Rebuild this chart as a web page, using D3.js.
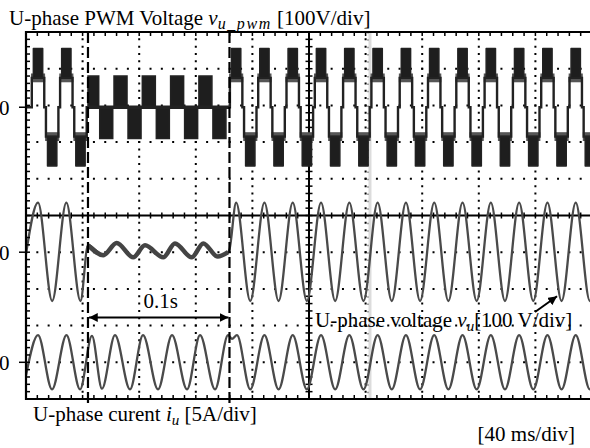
<!DOCTYPE html>
<html>
<head>
<meta charset="utf-8">
<script src="https://cdn.jsdelivr.net/npm/d3@7"></script>
<style>
  html, body { margin: 0; padding: 0; background: #fff; }
  svg { display: block; font-family: "Liberation Serif", "Times New Roman", serif; }
</style>
</head>
<body>
<div class="chart"></div>
<script>
// Time axis in ms, 10 div x 40 ms/div
const timeDomain = [0, 400]
const gridTimes = [40, 80, 120, 160, 240, 280, 320, 360]
const gridDivs = [-4, -3, -2, -1, 1, 2, 3, 4]

// Gate where the PWM drops to 3 levels (dashed lines, 0.1 s apart)
const gateStart = 43.8
const gateEnd = 143.8
const cursorTime = 243.1

// Channel zero offsets (div from screen centre) and scale per div
const chOffset = [2.95, -1.0, -4.0]
const chPerDiv = [100, 100, 5]

// U-phase voltage v_u [V]
const vuTime = [0, 8.5, 18.5, 28.5, 38.5, 43.8, 54.6, 64.1, 75.8, 84.1, 97.0, 105.3, 117.1, 125.3, 135.5, 142.8, 143.8,
  148.5, 158.5, 168.5, 178.5, 188.5, 198.5, 208.5, 218.5, 228.5, 238.5, 248.5, 258.5, 268.5, 278.5,
  288.5, 298.5, 308.5, 318.5, 328.5, 338.5, 348.5, 358.5, 368.5, 378.5, 388.5, 398.5, 400]
const vuVolt = [-5, 135, -133, 135, -133, 19, -8, 25, -14, 19, -14, 24, -14, 24, -12, 0, 8,
  135, -133, 135, -133, 135, -133, 135, -133, 135, -133, 135, -133, 135, -133,
  135, -133, 135, -133, 135, -133, 135, -133, 135, -133, 135, -133, -124]

// U-phase current i_u [A]
const iuTime = [0, 8.5, 18.4, 28.6, 38.2, 46.6, 53.7, 62.9, 73.5, 82.7, 93.3, 103.2, 113.8, 123.0, 133.6, 142.8, 145.6,
  149.1, 158.5, 168.5, 178.5, 188.5, 198.5, 208.5, 218.5, 228.5, 238.5, 248.5, 258.5, 268.5, 278.5,
  288.5, 298.5, 308.5, 318.5, 328.5, 338.5, 348.5, 358.5, 368.5, 378.5, 388.5, 398.5, 400]
const iuAmp = [-1.8, 3.7, -3.7, 3.7, -3.7, 3.6, -3.6, 3.7, -3.7, 3.7, -3.7, 3.7, -3.7, 3.7, -3.7, 3.7, 3.2,
  3.7, -3.7, 3.7, -3.7, 3.7, -3.7, 3.7, -3.7, 3.7, -3.7, 3.7, -3.7, 3.7, -3.7,
  3.7, -3.7, 3.7, -3.7, 3.7, -3.7, 3.7, -3.7, 3.7, -3.7, 3.7, -3.7, -3.4]

// PWM voltage v_u_pwm: 5-level lobes outside the gate
const pwmPosCenters = [8.5, 28.5, 148.5, 168.5, 188.5, 208.5, 228.5, 248.5, 268.5, 288.5, 308.5, 328.5, 348.5, 368.5, 388.5]
const pwmNegCenters = [18.5, 38.5, 158.5, 178.5, 198.5, 218.5, 238.5, 258.5, 278.5, 298.5, 318.5, 338.5, 358.5, 378.5, 398.5]
const lobeOffset = [-4.4, -4.4, 4.4, 4.4]
const lobeLevel = [0, 80, 80, 0]
const blockHalf = 3.3          // +1/+2 switching block
const blockLevels = [80, 160]
const shoulderHalf = 5.0
const shoulderLevels = [68, 92]

// 3-level PWM inside the gate
const pwm3PosCenters = [46.8, 66.8, 86.8, 106.8, 126.8]
const pwm3NegCenters = [56.7, 76.7, 96.7, 116.7, 136.7]
const pwm3Half = 4.6
const pwm3Level = 85

const W = 590, H = 448
const plot = {left: 26, right: 592, top: 32, bottom: 399}
const fontSize = 21, subSize = 15

const svg = d3.select(".chart").append("svg")
  .attr("width", W)
  .attr("height", H)

svg.append("rect").attr("width", W).attr("height", H).attr("fill", "#fff")

// Scales
const x = d3.scaleLinear().domain(timeDomain).range([plot.left, plot.right])
const yDiv = d3.scaleLinear().domain([-5, 5]).range([plot.bottom, plot.top])
const chScale = i => d3.scaleLinear()
  .domain([(-5 - chOffset[i]) * chPerDiv[i], (5 - chOffset[i]) * chPerDiv[i]])
  .range([plot.bottom, plot.top])
const yPwm = chScale(0)
const yVu = chScale(1)
const yIu = chScale(2)

const divW = x(40) - x(0)
const divH = yDiv(0) - yDiv(1)

// Graticule dots
const grid = svg.append("g")
grid.selectAll(".vgrid")
  .data(gridTimes)
  .enter().append("line")
    .attr("x1", d => x(d)).attr("x2", d => x(d))
    .attr("y1", plot.top).attr("y2", plot.bottom)
    .attr("stroke", "#000")
    .attr("stroke-width", 2)
    .attr("stroke-dasharray", `2,${divH / 5 - 2}`)
    .attr("stroke-dashoffset", 1)
grid.selectAll(".hgrid")
  .data(gridDivs)
  .enter().append("line")
    .attr("x1", plot.left).attr("x2", plot.right)
    .attr("y1", d => yDiv(d)).attr("y2", d => yDiv(d))
    .attr("stroke", "#000")
    .attr("stroke-width", 2)
    .attr("stroke-dasharray", `2,${divW / 5 - 2}`)
    .attr("stroke-dashoffset", 1)

// Cursor line (light grey)
svg.append("line")
  .attr("x1", x(cursorTime)).attr("x2", x(cursorTime))
  .attr("y1", plot.top).attr("y2", plot.bottom)
  .attr("stroke", "#dcdcdc")
  .attr("stroke-width", 3)
svg.append("line")
  .attr("x1", x(cursorTime) - 2).attr("x2", x(cursorTime) - 2)
  .attr("y1", plot.top).attr("y2", plot.bottom)
  .attr("stroke", "#888")
  .attr("stroke-width", 1.5)
  .attr("stroke-dasharray", `1.5,${divH / 5 - 1.5}`)

// Centre axes with minor ticks
const minorT = d3.range(0, 400.1, 8)
const minorD = d3.range(-5, 5.01, 0.2)
svg.append("line")
  .attr("x1", plot.left).attr("x2", plot.right)
  .attr("y1", yDiv(0)).attr("y2", yDiv(0))
  .attr("stroke", "#000").attr("stroke-width", 2)
svg.append("line")
  .attr("x1", x(200)).attr("x2", x(200))
  .attr("y1", plot.top).attr("y2", plot.bottom)
  .attr("stroke", "#000").attr("stroke-width", 2)
svg.append("g").selectAll("line")
  .data(minorT)
  .enter().append("line")
    .attr("x1", d => x(d)).attr("x2", d => x(d))
    .attr("y1", yDiv(0) - 3).attr("y2", yDiv(0) + 3)
    .attr("stroke", "#000").attr("stroke-width", 1.5)
svg.append("g").selectAll("line")
  .data(minorD)
  .enter().append("line")
    .attr("x1", x(200) - 3.5).attr("x2", x(200) + 3.5)
    .attr("y1", d => yDiv(d)).attr("y2", d => yDiv(d))
    .attr("stroke", "#000").attr("stroke-width", 1.5)

// PWM trace
const pwmTrace = []
function addLobes(t0, t1, pos, neg) {
  const lobes = pos.map(c => [c, 1]).concat(neg.map(c => [c, -1])).sort((a, b) => a[0] - b[0])
  pwmTrace.push([t0, 0])
  lobes.forEach(([c, s]) => {
    lobeOffset.forEach((o, i) => pwmTrace.push([c + o, s * lobeLevel[i]]))
  })
  pwmTrace.push([t1, 0])
}
addLobes(0, gateStart, pwmPosCenters.filter(c => c < gateStart), pwmNegCenters.filter(c => c < gateStart))
addLobes(gateEnd, 402, pwmPosCenters.filter(c => c > gateEnd), pwmNegCenters.filter(c => c > gateEnd))

const pwmG = svg.append("g")
const bandArea = d3.area().x(d => x(d[0])).y0(d => yPwm(d[1])).y1(d => yPwm(d[2]))
const lobes5 = pwmPosCenters.map(c => [c, 1]).concat(pwmNegCenters.map(c => [c, -1]))

// shoulders (+1 level)
pwmG.selectAll(".shoulder")
  .data(lobes5)
  .enter().append("path")
    .attr("d", ([c, s]) => bandArea([[c - shoulderHalf, s * shoulderLevels[0], s * shoulderLevels[1]],
                                     [c + shoulderHalf, s * shoulderLevels[0], s * shoulderLevels[1]]]))
    .attr("fill", "#555")
// switching blocks (+1/+2)
pwmG.selectAll(".block")
  .data(lobes5)
  .enter().append("path")
    .attr("d", ([c, s]) => bandArea([[c - blockHalf, s * blockLevels[0], s * blockLevels[1]],
                                     [c + blockHalf, s * blockLevels[0], s * blockLevels[1]]]))
    .attr("fill", "#1e1e1e")
    .attr("stroke", "#222")
    .attr("stroke-width", 1.5)
    .attr("stroke-linejoin", "round")
// 3-level blocks inside the gate
pwmG.selectAll(".block3")
  .data(pwm3PosCenters.map(c => [c, 1]).concat(pwm3NegCenters.map(c => [c, -1])))
  .enter().append("path")
    .attr("d", ([c, s]) => bandArea([[Math.max(c - pwm3Half, gateStart), 0, s * pwm3Level],
                                     [Math.min(c + pwm3Half, gateEnd), 0, s * pwm3Level]]))
    .attr("fill", "#1e1e1e")
    .attr("stroke", "#222")
    .attr("stroke-width", 1.5)
pwmG.append("path")
  .attr("d", d3.line().x(d => x(d[0])).y(d => yPwm(d[1]))([[gateStart, 0], [gateEnd, 0]]))
  .attr("fill", "none").attr("stroke", "#222").attr("stroke-width", 3.5)
pwmG.append("path")
  .attr("d", d3.line().x(d => x(d[0])).y(d => yPwm(d[1]))(pwmTrace))
  .attr("fill", "none")
  .attr("stroke", "#222")
  .attr("stroke-width", 2.4)

// v_u trace
const vuData = d3.zip(vuTime, vuVolt)
const vuLine = d3.line().x(d => x(d[0])).y(d => yVu(d[1])).curve(d3.curveMonotoneX)
svg.append("path")
  .attr("d", vuLine(vuData))
  .attr("fill", "none").attr("stroke", "#4a4a4a").attr("stroke-width", 2.3)
svg.append("path")
  .attr("d", vuLine(vuData.filter(d => d[0] >= gateStart && d[0] <= gateEnd - 1)))
  .attr("fill", "none").attr("stroke", "#444").attr("stroke-width", 4.5)

// i_u trace
const iuData = d3.zip(iuTime, iuAmp)
svg.append("path")
  .attr("d", d3.line().x(d => x(d[0])).y(d => yIu(d[1])).curve(d3.curveMonotoneX)(iuData))
  .attr("fill", "none").attr("stroke", "#4a4a4a").attr("stroke-width", 2.3)

// Border with ticks
const border = svg.append("g")
border.append("path")
  .attr("d", `M${plot.right},${plot.top}H${plot.left}V${plot.bottom}H${plot.right}`)
  .attr("fill", "none").attr("stroke", "#000").attr("stroke-width", 2.2)
border.selectAll(".tt")
  .data(minorT)
  .enter().append("line")
    .attr("x1", d => x(d)).attr("x2", d => x(d))
    .attr("y1", plot.top).attr("y2", plot.top + 4)
    .attr("stroke", "#000").attr("stroke-width", 1.5)
border.selectAll(".bt")
  .data(minorT)
  .enter().append("line")
    .attr("x1", d => x(d)).attr("x2", d => x(d))
    .attr("y1", plot.bottom).attr("y2", plot.bottom - 4)
    .attr("stroke", "#000").attr("stroke-width", 1.5)
border.selectAll(".lt")
  .data(minorD)
  .enter().append("line")
    .attr("x1", plot.left).attr("x2", plot.left + 4)
    .attr("y1", d => yDiv(d)).attr("y2", d => yDiv(d))
    .attr("stroke", "#000").attr("stroke-width", 1.5)

// Gate markers (dashed)
svg.selectAll(".gate")
  .data([gateStart, gateEnd])
  .enter().append("line")
    .attr("x1", d => x(d)).attr("x2", d => x(d))
    .attr("y1", plot.top).attr("y2", plot.bottom + 6)
    .attr("stroke", "#000")
    .attr("stroke-width", 2.2)
    .attr("stroke-dasharray", "11,4")

// 0.1 s arrow
const defs = svg.append("defs")
defs.append("marker")
  .attr("id", "ah").attr("viewBox", "0 0 10 10")
  .attr("refX", 10).attr("refY", 5)
  .attr("markerWidth", 4).attr("markerHeight", 4)
  .attr("orient", "auto-start-reverse")
  .append("path").attr("d", "M0,0L10,5L0,10z").attr("fill", "#000")
const arrowY = 317.5
svg.append("line")
  .attr("x1", x(gateStart) + 1).attr("x2", x(gateEnd) - 1)
  .attr("y1", arrowY).attr("y2", arrowY)
  .attr("stroke", "#000").attr("stroke-width", 2.2)
  .attr("marker-start", "url(#ah)").attr("marker-end", "url(#ah)")
svg.append("text")
  .attr("x", (x(gateStart) + x(gateEnd)) / 2 + 2)
  .attr("y", 308)
  .attr("text-anchor", "middle")
  .attr("font-size", fontSize)
  .text("0.1s")

// Zero markers
const zeroY = [yPwm(0), yVu(0), yIu(0)]
svg.selectAll(".zt")
  .data(zeroY)
  .enter().append("line")
    .attr("x1", 19).attr("x2", plot.left)
    .attr("y1", d => d).attr("y2", d => d)
    .attr("stroke", "#000").attr("stroke-width", 1.5)
svg.selectAll(".zl")
  .data(zeroY)
  .enter().append("text")
    .attr("x", -1).attr("y", d => d + 7.5)
    .attr("font-size", fontSize)
    .text("0")

// Labels
const title = svg.append("text").attr("x", 9).attr("y", 24.5).attr("font-size", fontSize)
title.append("tspan").text("U-phase PWM Voltage ")
title.append("tspan").attr("font-style", "italic").text("v")
title.append("tspan").attr("font-style", "italic").attr("font-size", 16).attr("letter-spacing", 1.6)
  .attr("dy", 4).text("u_pwm")
title.append("tspan").attr("dy", -4).text(" [100V/div]")

// v_u annotation with arrow
const vuNote = svg.append("text").attr("x", 315).attr("y", 327).attr("font-size", fontSize)
vuNote.append("tspan").text("U-phase voltage ")
vuNote.append("tspan").attr("font-style", "italic").text("v")
vuNote.append("tspan").attr("font-style", "italic").attr("font-size", subSize).attr("dy", 4).text("u")
vuNote.append("tspan").attr("dy", -4).text("[100 V/div]")
defs.append("marker")
  .attr("id", "ah2").attr("viewBox", "0 0 10 10")
  .attr("refX", 10).attr("refY", 5)
  .attr("markerWidth", 4.5).attr("markerHeight", 4.5)
  .attr("orient", "auto")
  .append("path").attr("d", "M0,0L10,5L0,10z").attr("fill", "#000")
svg.append("line")
  .attr("x1", x(359.7)).attr("y1", yVu(-163))
  .attr("x2", x(375.3)).attr("y2", yVu(-120))
  .attr("stroke", "#000").attr("stroke-width", 2)
  .attr("marker-end", "url(#ah2)")

const iuNote = svg.append("text").attr("x", 33).attr("y", 421).attr("font-size", fontSize)
iuNote.append("tspan").text("U-phase curent ")
iuNote.append("tspan").attr("font-style", "italic").text("i")
iuNote.append("tspan").attr("font-style", "italic").attr("font-size", subSize).attr("dy", 4).text("u")
iuNote.append("tspan").attr("dy", -4).text(" [5A/div]")

svg.append("text")
  .attr("x", 575).attr("y", 440.5)
  .attr("text-anchor", "end")
  .attr("font-size", fontSize)
  .text("[40 ms/div]")
</script>
</body>
</html>
